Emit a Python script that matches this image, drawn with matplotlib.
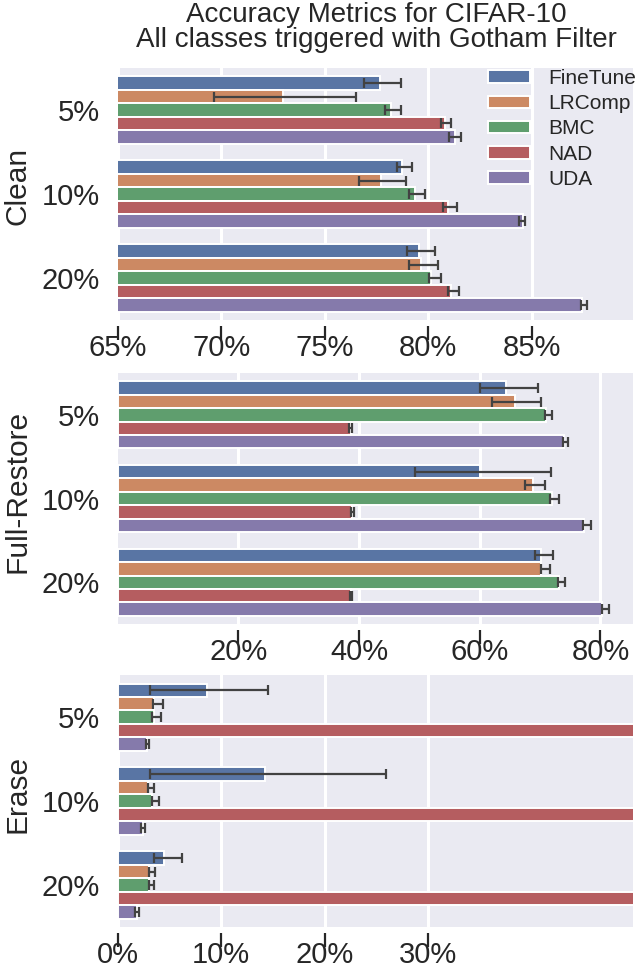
import numpy as np
import matplotlib
matplotlib.use('Agg')
import matplotlib.pyplot as plt
import seaborn as sns

methods = ['FineTune', 'LRComp', 'BMC', 'NAD', 'UDA']
ratios = ['5%', '10%', '20%']

# rows = poison ratio (5%, 10%, 20%), columns = methods
clean_mean = [[77.66, 72.97, 78.19, 80.80, 81.30],
              [78.75, 77.74, 79.35, 80.96, 84.60],
              [79.54, 79.67, 80.15, 81.10, 87.46]]
clean_lo = [[76.88, 69.65, 77.93, 80.64, 81.00],
            [78.50, 76.65, 79.07, 80.70, 84.40],
            [78.98, 79.07, 80.02, 80.96, 87.40]]
clean_hi = [[78.70, 76.50, 78.68, 81.11, 81.60],
            [79.20, 78.94, 79.87, 81.40, 84.70],
            [80.31, 80.47, 80.60, 81.48, 87.70]]

restore_mean = [[64.3, 65.8, 71.0, 38.6, 73.9],
                [60.1, 68.8, 72.0, 38.8, 77.3],
                [70.2, 70.2, 73.1, 38.6, 80.3]]
restore_lo = [[60.0, 62.1, 70.8, 38.4, 73.8],
              [49.2, 67.5, 71.7, 38.6, 77.2],
              [69.1, 70.1, 72.9, 38.5, 80.3]]
restore_hi = [[69.65, 70.2, 71.9, 38.8, 74.7],
              [71.8, 70.8, 73.1, 39.1, 78.5],
              [72.1, 71.6, 74.1, 38.8, 81.5]]

erase_mean = [[8.6, 3.5, 3.5, 89.5, 2.8],
              [14.2, 2.9, 3.3, 89.5, 2.4],
              [4.5, 3.0, 3.0, 89.5, 1.85]]
erase_lo = [[3.1, 3.4, 3.3, 89.5, 2.7],
            [3.1, 2.9, 3.3, 89.5, 2.2],
            [3.5, 3.0, 3.0, 89.5, 1.7]]
erase_hi = [[14.5, 4.4, 4.2, 89.5, 3.0],
            [25.9, 3.5, 4.0, 89.5, 2.6],
            [6.2, 3.6, 3.5, 89.5, 2.05]]

plt.rcParams['font.family'] = ['Liberation Sans', 'DejaVu Sans']

colors = [sns.desaturate(c, 0.75) for c in sns.color_palette('deep', 5)]
err_color = '#424242'
text_color = '#262626'

fig = plt.figure(figsize=(6.4, 9.69), dpi=100)

panels = [
    ('Clean', clean_mean, clean_lo, clean_hi, (65, 89.9), [65, 70, 75, 80, 85], [0.184, 0.6698, 0.805, 0.260]),
    ('Full-Restore', restore_mean, restore_lo, restore_hi, (0, 85.4), [20, 40, 60, 80], [0.184, 0.356, 0.805, 0.259]),
    ('Erase', erase_mean, erase_lo, erase_hi, (0, 49.8), [0, 10, 20, 30], [0.184, 0.0433, 0.805, 0.260]),
]

offsets = (np.arange(5) - 2) * 0.16
axes = []
for name, mean, lo, hi, xlim, xticks, rect in panels:
    ax = fig.add_axes(rect)
    ax.set_facecolor('#EAEAF2')
    for s in ax.spines.values():
        s.set_visible(False)
    ax.spines['bottom'].set_position(('outward', 4))
    ax.grid(axis='x', color='white', linewidth=2.2)
    ax.set_axisbelow(True)

    mean = np.array(mean)
    lo = np.array(lo)
    hi = np.array(hi)
    y = np.arange(len(ratios))
    for j, m in enumerate(methods):
        ax.barh(y + offsets[j], mean[:, j], height=0.16, color=colors[j],
                edgecolor='white', linewidth=1.4, label=m)
        ax.errorbar(mean[:, j], y + offsets[j],
                    xerr=[mean[:, j] - lo[:, j], hi[:, j] - mean[:, j]],
                    fmt='none', ecolor=err_color, elinewidth=1.6,
                    capsize=3.5, capthick=1.6)

    ax.set_xlim(*xlim)
    ax.set_ylim(2.5, -0.5)
    ax.set_xticks(xticks)
    ax.set_xticklabels([f'{t}%' for t in xticks], fontsize=21, color=text_color)
    ax.set_yticks(y)
    ax.set_yticklabels(ratios, fontsize=21, color=text_color)
    ax.tick_params(axis='x', length=10, width=1.6, color=text_color, pad=-4)
    ax.tick_params(axis='y', length=0, pad=13)
    ax.set_ylabel(name, fontsize=21.5, color=text_color)
    ax.yaxis.set_label_coords(-0.168, 0.53)
    axes.append(ax)

axes[0].legend(loc='upper left', bbox_to_anchor=(488 / 640, 1 - 69 / 969),
               bbox_transform=fig.transFigure, frameon=False, fontsize=15,
               handlelength=2.0, handleheight=0.55, handletextpad=0.9,
               labelspacing=0.3, borderpad=0, borderaxespad=0,
               labelcolor=text_color)

fig.text(0.588, 1 - 2 / 969, 'Accuracy Metrics for CIFAR-10\nAll classes triggered with Gotham Filter',
         ha='center', va='top', fontsize=20, linespacing=0.95, color=text_color)

fig.savefig('out.png', dpi=100)
